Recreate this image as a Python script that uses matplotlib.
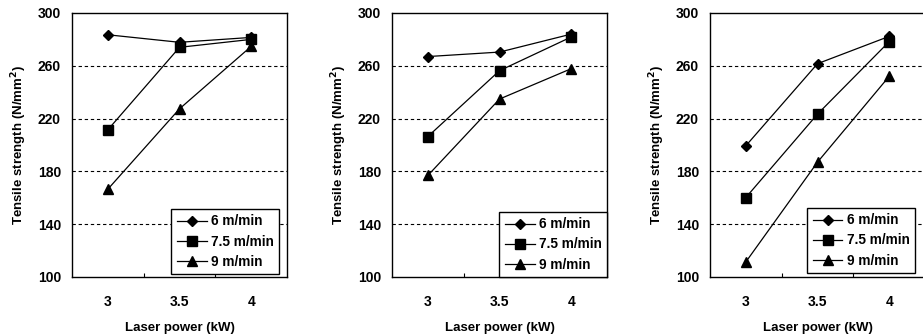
import matplotlib
matplotlib.use("Agg")
import matplotlib.pyplot as plt

plt.rcParams['font.family'] = ['Liberation Sans', 'DejaVu Sans']
plt.rcParams['font.weight'] = 'bold'

categories = ['3', '3.5', '4']
series_names = ['6 m/min', '7.5 m/min', '9 m/min']
panel1 = [[283.5, 277.8, 281.5], [211.5, 274.0, 280.0], [166.5, 227.4, 274.7]]
panel2 = [[267.0, 270.4, 284.0], [206.4, 256.3, 281.8], [176.9, 234.8, 257.8]]
panel3 = [[199.4, 261.6, 282.3], [160.2, 223.4, 278.3], [111.4, 187.0, 252.0]]
panels = [panel1, panel2, panel3]
yticks = [100, 140, 180, 220, 260, 300]
markers = ['D', 's', '^']
msizes = [5.5, 6.5, 7]

fig = plt.figure(figsize=(9.23, 3.34), dpi=100)
lefts = [72 / 923, 392 / 923, 710 / 923]
legend_anchor = [(0.963, 0.011), (1.0, 0.0), (0.953, 0.015)]
W = 215 / 923
B = 1 - 277 / 334
H = 264 / 334

for i, data in enumerate(panels):
    ax = fig.add_axes([lefts[i], B, W, H])
    x = list(range(len(categories)))
    for j, vals in enumerate(data):
        ax.plot(x, vals, color='black', lw=0.9, marker=markers[j],
                markersize=msizes[j], markerfacecolor='black',
                markeredgecolor='black', label=series_names[j], zorder=3)
    ax.set_xlim(-0.5, 2.5)
    ax.set_ylim(100, 300)
    ax.set_yticks(yticks)
    ax.set_yticklabels([str(t) for t in yticks], fontsize=10, fontweight='bold')
    ax.set_xticks(x)
    ax.set_xticklabels(categories, fontsize=10, fontweight='bold')
    ax.set_xticks([0.5, 1.5], minor=True)
    ax.tick_params(axis='x', which='major', length=0, pad=13)
    ax.tick_params(axis='x', which='minor', length=3, direction='in', width=0.8)
    ax.tick_params(axis='y', length=0, pad=8)
    for t in [140, 180, 220, 260]:
        ax.axhline(t, color='black', lw=0.8, ls=(0, (3, 2.5)), zorder=1)
    for s in ax.spines.values():
        s.set_linewidth(1.0)
        s.set_color('black')
    ax.set_xlabel('Laser power (kW)', fontsize=9.5, fontweight='bold', labelpad=9)
    ax.set_ylabel('Tensile strength (N/mm$^\\mathbf{2}$)', fontsize=9.5,
                  fontweight='bold', labelpad=6)
    leg = ax.legend(loc='lower right', bbox_to_anchor=legend_anchor[i],
                    fontsize=9.8, frameon=True, fancybox=False,
                    edgecolor='black', framealpha=1, handlelength=2.2,
                    labelspacing=0.45, borderpad=0.4, handletextpad=0.3,
                    borderaxespad=0)
    leg.get_frame().set_linewidth(1.0)
    for t in leg.get_texts():
        t.set_fontweight('bold')

fig.savefig('out.png', dpi=100)
